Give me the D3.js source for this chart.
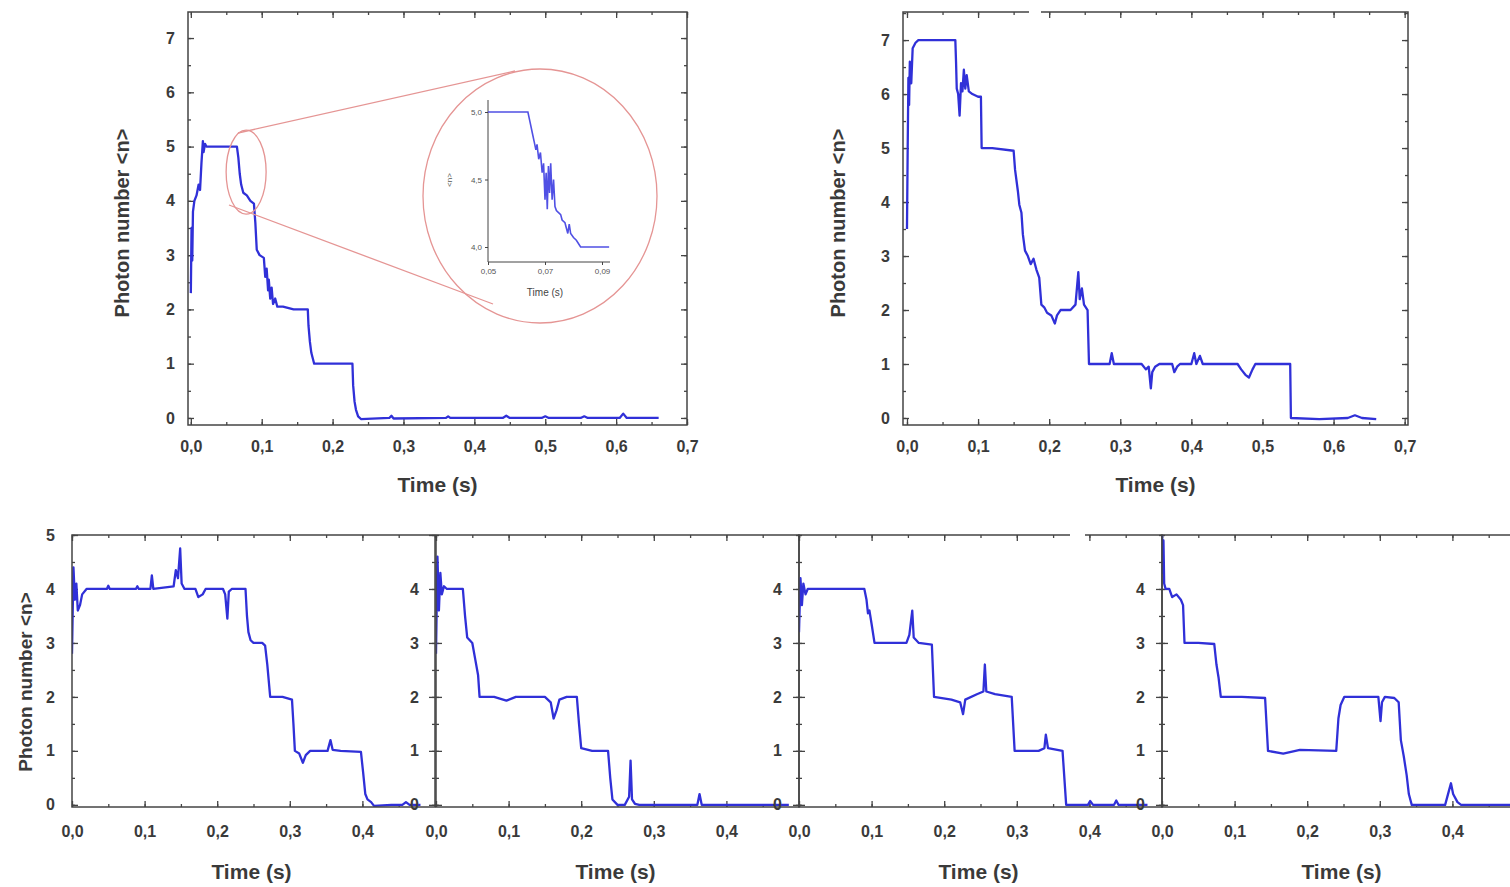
<!DOCTYPE html>
<html>
<head>
<meta charset="utf-8">
<script src="https://cdn.jsdelivr.net/npm/d3@7"></script>
<style>
body { margin: 0; background: #fff; overflow: hidden; }
svg { display: block; font-family: "Liberation Sans", Arial, sans-serif; }
</style>
</head>
<body>
<svg id="canvas" width="1510" height="887"></svg>
<script>
// photon number traces as [time (s), <n>]
var topLeftData = [[0.000,2.3],[0.001,3.5],[0.002,2.9],[0.003,3.8],[0.005,4.0],[0.008,4.1],[0.011,4.3],[0.013,4.2],[0.015,4.7],[0.017,5.1],[0.018,4.9],[0.020,5.05],[0.022,5.0],[0.040,5.0],[0.065,5.0],[0.067,4.8],[0.069,4.5],[0.071,4.3],[0.074,4.15],[0.079,4.1],[0.084,4.0],[0.089,3.95],[0.091,3.6],[0.093,3.1],[0.097,3.0],[0.103,2.95],[0.105,2.6],[0.107,2.75],[0.109,2.35],[0.110,2.55],[0.112,2.2],[0.114,2.4],[0.116,2.1],[0.119,2.2],[0.122,2.05],[0.130,2.05],[0.145,2.0],[0.165,2.0],[0.166,1.7],[0.168,1.4],[0.170,1.2],[0.172,1.1],[0.174,1.0],[0.200,1.0],[0.228,1.0],[0.229,0.6],[0.231,0.3],[0.233,0.15],[0.236,0.03],[0.240,-0.02],[0.280,0.0],[0.283,0.04],[0.286,-0.01],[0.360,0.0],[0.363,0.03],[0.366,0.0],[0.440,0.0],[0.445,0.04],[0.450,0.0],[0.495,0.0],[0.500,0.03],[0.505,0.0],[0.550,0.0],[0.555,0.03],[0.560,0.0],[0.605,0.0],[0.610,0.08],[0.615,0.0],[0.660,0.0]];

var topRightData = [[0.000,3.5],[0.001,5.0],[0.002,6.3],[0.003,5.8],[0.004,6.6],[0.006,6.2],[0.008,6.85],[0.012,6.95],[0.016,7.0],[0.040,7.0],[0.068,7.0],[0.069,6.6],[0.070,6.1],[0.072,6.0],[0.074,5.6],[0.076,6.2],[0.078,6.05],[0.080,6.45],[0.082,6.1],[0.084,6.35],[0.087,6.05],[0.092,6.0],[0.100,5.95],[0.104,5.95],[0.105,5.0],[0.120,5.0],[0.150,4.95],[0.152,4.6],[0.156,4.2],[0.158,3.95],[0.161,3.8],[0.163,3.4],[0.166,3.1],[0.170,3.0],[0.174,2.85],[0.178,2.95],[0.182,2.75],[0.186,2.6],[0.189,2.1],[0.193,2.05],[0.197,1.95],[0.203,1.9],[0.208,1.75],[0.211,1.9],[0.216,2.0],[0.230,2.0],[0.237,2.1],[0.241,2.7],[0.243,2.2],[0.246,2.4],[0.249,2.1],[0.254,2.0],[0.256,1.0],[0.285,1.0],[0.288,1.2],[0.291,1.0],[0.330,1.0],[0.336,0.9],[0.340,0.95],[0.343,0.55],[0.345,0.85],[0.349,0.95],[0.355,1.0],[0.373,1.0],[0.376,0.85],[0.380,0.95],[0.384,1.0],[0.400,1.0],[0.404,1.2],[0.407,1.0],[0.412,1.15],[0.416,1.0],[0.465,1.0],[0.470,0.9],[0.476,0.8],[0.481,0.75],[0.486,0.9],[0.490,1.0],[0.539,1.0],[0.540,0.0],[0.580,-0.02],[0.620,0.0],[0.630,0.05],[0.640,0.0],[0.660,-0.02]];

var insetData = [[0.050,5.0],[0.064,5.0],[0.0647,4.93],[0.0655,4.85],[0.0662,4.78],[0.0668,4.72],[0.0672,4.76],[0.0678,4.65],[0.0684,4.7],[0.069,4.55],[0.0695,4.62],[0.070,4.35],[0.0704,4.55],[0.0708,4.28],[0.0712,4.6],[0.0716,4.4],[0.072,4.62],[0.0725,4.35],[0.073,4.5],[0.0735,4.3],[0.074,4.27],[0.0755,4.24],[0.076,4.2],[0.077,4.18],[0.078,4.1],[0.0785,4.17],[0.079,4.1],[0.080,4.07],[0.081,4.05],[0.0825,4.0],[0.0925,4.0]];

var bottomAData = [[0.000,2.8],[0.002,4.4],[0.004,3.8],[0.006,4.1],[0.008,3.6],[0.011,3.7],[0.014,3.9],[0.020,4.0],[0.048,4.0],[0.050,4.06],[0.052,4.0],[0.088,4.0],[0.090,4.05],[0.092,4.0],[0.108,4.0],[0.110,4.25],[0.112,4.0],[0.140,4.05],[0.143,4.35],[0.146,4.2],[0.149,4.75],[0.151,4.1],[0.155,4.0],[0.170,4.0],[0.174,3.85],[0.180,3.9],[0.184,4.0],[0.208,4.0],[0.211,3.9],[0.214,3.45],[0.216,3.95],[0.220,4.0],[0.239,4.0],[0.241,3.5],[0.243,3.2],[0.246,3.05],[0.250,3.0],[0.262,3.0],[0.266,2.95],[0.269,2.6],[0.273,2.0],[0.290,2.0],[0.303,1.95],[0.305,1.5],[0.307,1.0],[0.313,0.95],[0.318,0.78],[0.322,0.92],[0.328,1.0],[0.352,1.0],[0.356,1.2],[0.359,1.02],[0.370,1.0],[0.398,0.98],[0.401,0.6],[0.404,0.2],[0.407,0.1],[0.412,0.05],[0.416,-0.02],[0.440,0.0],[0.455,0.0],[0.460,0.05],[0.465,0.0],[0.480,0.0]];

var bottomBData = [[0.000,2.8],[0.002,4.6],[0.004,3.6],[0.006,4.3],[0.008,3.9],[0.011,4.05],[0.015,4.0],[0.037,4.0],[0.040,3.5],[0.043,3.1],[0.050,3.0],[0.054,2.7],[0.058,2.4],[0.060,2.0],[0.080,2.0],[0.097,1.93],[0.110,2.0],[0.150,2.0],[0.158,1.9],[0.162,1.6],[0.166,1.75],[0.170,1.95],[0.180,2.0],[0.194,2.0],[0.197,1.5],[0.200,1.05],[0.215,1.0],[0.237,1.0],[0.240,0.5],[0.243,0.1],[0.250,0.0],[0.260,0.0],[0.266,0.15],[0.268,0.82],[0.270,0.1],[0.274,0.02],[0.280,0.0],[0.360,0.0],[0.363,0.2],[0.366,0.0],[0.486,0.0]];

var bottomCData = [[0.000,3.2],[0.002,4.2],[0.004,3.7],[0.006,4.1],[0.009,3.9],[0.012,4.0],[0.050,4.0],[0.090,4.0],[0.093,3.8],[0.095,3.55],[0.097,3.6],[0.100,3.35],[0.104,3.0],[0.130,3.0],[0.148,3.0],[0.152,3.15],[0.156,3.6],[0.158,3.1],[0.165,3.0],[0.183,2.97],[0.186,2.0],[0.210,1.95],[0.222,1.9],[0.226,1.68],[0.229,1.95],[0.245,2.05],[0.254,2.1],[0.256,2.6],[0.258,2.1],[0.270,2.05],[0.293,2.0],[0.297,1.0],[0.330,1.0],[0.338,1.05],[0.340,1.3],[0.343,1.05],[0.363,1.0],[0.368,0.0],[0.398,0.0],[0.401,0.07],[0.405,0.0],[0.434,0.0],[0.437,0.08],[0.440,0.0],[0.480,0.0]];

var bottomDData = [[0.000,5.0],[0.001,4.3],[0.002,4.9],[0.003,4.1],[0.005,4.0],[0.010,4.0],[0.014,3.85],[0.020,3.9],[0.026,3.8],[0.029,3.7],[0.031,3.0],[0.050,3.0],[0.072,2.98],[0.075,2.6],[0.078,2.35],[0.081,2.0],[0.110,2.0],[0.142,1.98],[0.146,1.0],[0.167,0.95],[0.190,1.02],[0.240,1.0],[0.243,1.6],[0.246,1.85],[0.251,2.0],[0.280,2.0],[0.298,2.0],[0.300,1.7],[0.301,1.55],[0.303,1.9],[0.307,2.0],[0.320,1.98],[0.326,1.9],[0.329,1.2],[0.333,0.9],[0.337,0.55],[0.340,0.2],[0.344,0.0],[0.390,0.0],[0.395,0.25],[0.398,0.4],[0.401,0.2],[0.407,0.05],[0.412,0.0],[0.500,0.0]];

// tick values
var topXTicks = [0, 0.1, 0.2, 0.3, 0.4, 0.5, 0.6, 0.7];
var topYTicks = [0, 1, 2, 3, 4, 5, 6, 7];
var bottomXTicks = [0, 0.1, 0.2, 0.3, 0.4];
var bottomYTicks = [0, 1, 2, 3, 4];
var bottomYTicksFirst = [0, 1, 2, 3, 4, 5];
var insetXTicks = [0.05, 0.07, 0.09];
var insetYTicks = [4.0, 4.5, 5.0];

var yTitle = "Photon number <n>";
var xTitle = "Time (s)";

var svg = d3.select("#canvas");
var loc = d3.formatLocale({decimal: ",", thousands: ".", grouping: [3], currency: ["", ""]});
var fmt1 = loc.format(".1f"), fmt2 = loc.format(".2f");

var axisColor = "#444";
var textColor = "#3a3a3a";
var lineColor = "#3030d8";

function styleAxis(g) {
    g.select(".domain").remove();
    g.selectAll(".tick line").attr("stroke", axisColor).attr("stroke-width", 1.3);
    g.selectAll(".tick text").attr("fill", textColor);
}

function drawPanel(p) {
    var x = d3.scaleLinear().domain(p.xDomain).range([p.left, p.right]);
    var y = d3.scaleLinear().domain(p.yDomain).range([p.bottom, p.top]);
    var g = svg.append("g");

    var xMinor = d3.range(0, p.xDomain[1] + 1e-9, 0.05).filter(function(v) { return v >= p.xDomain[0]; });
    var yMinor = d3.range(0, p.yDomain[1] + 1e-9, 0.5);

    // minor ticks on all four sides
    g.append("g").attr("transform", "translate(0," + p.bottom + ")")
        .call(d3.axisBottom(x).tickValues(xMinor).tickSize(-3).tickFormat("")).call(styleAxis);
    g.append("g").attr("transform", "translate(0," + p.top + ")")
        .call(d3.axisTop(x).tickValues(xMinor).tickSize(-3).tickFormat("")).call(styleAxis);
    g.append("g").attr("transform", "translate(" + p.left + ",0)")
        .call(d3.axisLeft(y).tickValues(yMinor).tickSize(-3).tickFormat("")).call(styleAxis);
    g.append("g").attr("transform", "translate(" + p.right + ",0)")
        .call(d3.axisRight(y).tickValues(yMinor).tickSize(-3).tickFormat("")).call(styleAxis);

    // major ticks + labels
    g.append("g").attr("transform", "translate(0," + p.bottom + ")")
        .call(d3.axisBottom(x).tickValues(p.xTicks).tickSize(-6).tickPadding(p.xPad).tickFormat(fmt1))
        .call(styleAxis)
        .attr("font-size", 16).attr("font-weight", "bold").attr("font-family", null);
    g.append("g").attr("transform", "translate(0," + p.top + ")")
        .call(d3.axisTop(x).tickValues(p.xTicks).tickSize(-6).tickFormat("")).call(styleAxis);
    g.append("g").attr("transform", "translate(" + p.left + ",0)")
        .call(d3.axisLeft(y).tickValues(p.yTicks).tickSize(-6).tickPadding(p.yPad).tickFormat(d3.format("d")))
        .call(styleAxis)
        .attr("font-size", 16).attr("font-weight", "bold").attr("font-family", null);
    g.append("g").attr("transform", "translate(" + p.right + ",0)")
        .call(d3.axisRight(y).tickValues(p.yTicks).tickSize(-6).tickFormat("")).call(styleAxis);

    var clipId = "clip" + p.id;
    svg.append("clipPath").attr("id", clipId).append("rect")
        .attr("x", p.left).attr("y", p.top)
        .attr("width", p.right - p.left).attr("height", p.bottom - p.top);

    g.append("path")
        .datum(p.data)
        .attr("clip-path", "url(#" + clipId + ")")
        .attr("fill", "none")
        .attr("stroke", lineColor)
        .attr("stroke-width", 2.3)
        .attr("stroke-linejoin", "round")
        .attr("d", d3.line().x(function(d) { return x(d[0]); }).y(function(d) { return y(d[1]); }));

    // frame
    g.append("rect")
        .attr("x", p.left).attr("y", p.top)
        .attr("width", p.right - p.left).attr("height", p.bottom - p.top)
        .attr("fill", "none").attr("stroke", axisColor).attr("stroke-width", 1.5);

    g.append("text")
        .attr("x", (p.left + p.right) / 2 + p.xTitleDx).attr("y", p.xTitleY)
        .attr("text-anchor", "middle").attr("font-size", 21).attr("font-weight", "bold").attr("fill", textColor)
        .text(xTitle);
    if (p.yTitleX) {
        g.append("text")
            .attr("transform", "translate(" + p.yTitleX + "," + p.yTitleY + ") rotate(-90)")
            .attr("text-anchor", "middle").attr("font-size", p.yTitleSize).attr("font-weight", "bold").attr("fill", textColor)
            .text(yTitle);
    }
    return {x: x, y: y};
}

var topLeft = drawPanel({id: "tl", data: topLeftData, left: 188, right: 687, top: 12, bottom: 425,
    xDomain: [-0.004, 0.7], yDomain: [-0.13, 7.48], xTicks: topXTicks, yTicks: topYTicks,
    xPad: 16, yPad: 13, xTitleY: 492, xTitleDx: 0, yTitleX: 129, yTitleY: 223, yTitleSize: 20});

drawPanel({id: "tr", data: topRightData, left: 903, right: 1408, top: 12, bottom: 425,
    xDomain: [-0.0056, 0.7047], yDomain: [-0.13, 7.52], xTicks: topXTicks, yTicks: topYTicks,
    xPad: 16, yPad: 13, xTitleY: 492, xTitleDx: 0, yTitleX: 845, yTitleY: 223, yTitleSize: 20});

var bottomSets = [bottomAData, bottomBData, bottomCData, bottomDData];
var bottomLefts = [72, 436, 799, 1162];
bottomSets.forEach(function(data, i) {
    var l = bottomLefts[i];
    drawPanel({id: "b" + i, data: data, left: l, right: l + 363, top: 535, bottom: 807,
        xDomain: [0, 0.5], yDomain: [-0.04, 5], xTicks: bottomXTicks,
        yTicks: i === 0 ? bottomYTicksFirst : bottomYTicks,
        xPad: 19, yPad: 17, xTitleY: 879, xTitleDx: -2, yTitleX: i === 0 ? 32 : null, yTitleY: 682, yTitleSize: 19});
});

// small breaks in the top borders, as in the source image
svg.append("rect").attr("x", 1029).attr("y", 8).attr("width", 12).attr("height", 9).attr("fill", "#fff");
svg.append("rect").attr("x", 1070).attr("y", 531).attr("width", 15).attr("height", 9).attr("fill", "#fff");

// zoom annotation
var pink = "#e59594";
var ann = svg.append("g").attr("fill", "none").attr("stroke", pink).attr("stroke-width", 1.3);
ann.append("ellipse").attr("cx", topLeft.x(0.078)).attr("cy", topLeft.y(4.53)).attr("rx", 20).attr("ry", 42);
ann.append("ellipse").attr("cx", 540).attr("cy", 196).attr("rx", 117).attr("ry", 127);
ann.append("line").attr("x1", 238).attr("y1", 133).attr("x2", 515).attr("y2", 71);
ann.append("line").attr("x1", 229).attr("y1", 205).attr("x2", 493).attr("y2", 304);

// inset
var ix = d3.scaleLinear().domain([0.05, 0.09]).range([488, 602]);
var iy = d3.scaleLinear().domain([4.0, 5.0]).range([247, 112]);
var inset = svg.append("g");
function styleInset(g) {
    g.select(".domain").remove();
    g.selectAll(".tick line").attr("stroke", axisColor);
    g.selectAll(".tick text").attr("fill", "#555");
}
inset.append("g").attr("transform", "translate(0,262)")
    .call(d3.axisBottom(ix).tickValues(insetXTicks).tickSize(3).tickPadding(3).tickFormat(fmt2))
    .call(styleInset)
    .attr("font-size", 8).attr("font-family", null);
inset.append("g").attr("transform", "translate(488,0)")
    .call(d3.axisLeft(iy).tickValues(insetYTicks).tickSize(3).tickPadding(3).tickFormat(fmt1))
    .call(styleInset)
    .attr("font-size", 8).attr("font-family", null);
inset.append("line").attr("x1", 488).attr("x2", 488).attr("y1", 100).attr("y2", 262)
    .attr("stroke", axisColor).attr("stroke-width", 1);
inset.append("line").attr("x1", 488).attr("x2", 610).attr("y1", 262).attr("y2", 262)
    .attr("stroke", axisColor).attr("stroke-width", 1);
inset.append("path")
    .datum(insetData)
    .attr("fill", "none").attr("stroke", "#5050e4").attr("stroke-width", 1.6)
    .attr("d", d3.line().x(function(d) { return ix(d[0]); }).y(function(d) { return iy(d[1]); }));
inset.append("text").attr("x", 545).attr("y", 296).attr("text-anchor", "middle")
    .attr("font-size", 10).attr("fill", "#444").text(xTitle);
inset.append("text").attr("transform", "translate(452,180) rotate(-90)").attr("text-anchor", "middle")
    .attr("font-size", 8).attr("fill", "#555").text("<n>");
</script>
</body>
</html>
